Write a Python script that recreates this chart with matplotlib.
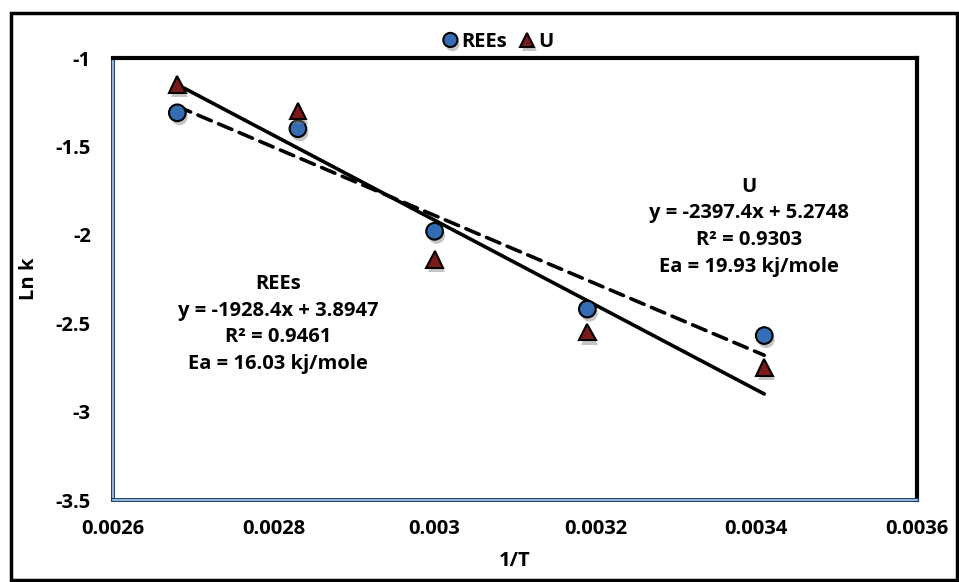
import numpy as np
import matplotlib
matplotlib.use("Agg")
import matplotlib.pyplot as plt
import matplotlib.patheffects as pe
from matplotlib.patches import Rectangle

plt.rcParams["font.family"] = ["Open Sans", "DejaVu Sans"]
plt.rcParams["font.weight"] = "bold"

# 1/T values and ln k for each series
inv_T = [0.00268, 0.00283, 0.00300, 0.00319, 0.00341]
lnk_rees = [-1.31, -1.40, -1.98, -2.42, -2.57]
lnk_u = [-1.15, -1.30, -2.14, -2.55, -2.75]

# trendline coefficients as printed on the chart
rees_fit = (-1928.4, 3.8947)
u_fit = (-2397.4, 5.2748)

rees_label = "REEs\ny = -1928.4x + 3.8947\nR² = 0.9461\nEa = 16.03 kj/mole"
u_label = "U\ny = -2397.4x + 5.2748\nR² = 0.9303\nEa = 19.93 kj/mole"

x_ticks = [0.0026, 0.0028, 0.003, 0.0032, 0.0034, 0.0036]
x_tick_labels = ["0.0026", "0.0028", "0.003", "0.0032", "0.0034", "0.0036"]
y_ticks = [-1, -1.5, -2, -2.5, -3, -3.5]
y_tick_labels = ["-1", "-1.5", "-2", "-2.5", "-3", "-3.5"]

FS = 14.5

fig = plt.figure(figsize=(9.59, 5.82), dpi=100)
ax = fig.add_axes([113 / 959, 1 - 500 / 582, (917 - 113) / 959, (500 - 58) / 582])

# outer frame of the chart
fig.patches.append(Rectangle((11 / 959, 2 / 582), 946 / 959, 567 / 582,
                             transform=fig.transFigure, fill=False,
                             edgecolor="black", linewidth=2.5, zorder=0))

shadow = [pe.SimplePatchShadow(offset=(1.5, -3), shadow_rgbFace="gray", alpha=0.45), pe.Normal()]

xs = np.array([min(inv_T), max(inv_T)])
ax.plot(xs, u_fit[0] * xs + u_fit[1], color="black", lw=2.6,
        solid_capstyle="round", zorder=2)
ax.plot(xs, rees_fit[0] * xs + rees_fit[1], color="black", lw=2.6,
        dashes=(4, 2.2), dash_capstyle="round", zorder=2)

ax.plot(inv_T, lnk_rees, "o", ms=12, mfc="#336db3", mec="black", mew=1.5,
        label="REEs", zorder=3, path_effects=shadow)
ax.plot(inv_T, lnk_u, "^", ms=12, mfc="#7a1a1a", mec="black", mew=1.5,
        label="U", zorder=3, path_effects=shadow)

ax.text(0.002805, -2.505, rees_label, ha="center", va="center",
        fontsize=FS, fontweight="bold", linespacing=1.45)
ax.text(0.003391, -1.955, u_label, ha="center", va="center",
        fontsize=FS, fontweight="bold", linespacing=1.45)

ax.set_xlim(0.0026, 0.0036)
ax.set_ylim(-3.5, -1)
ax.set_xticks(x_ticks)
ax.set_xticklabels(x_tick_labels)
ax.set_yticks(y_ticks)
ax.set_yticklabels(y_tick_labels)
ax.tick_params(length=0, labelsize=FS, pad=16)
ax.tick_params(axis="x", pad=14)

ax.set_xlabel("1/T", fontsize=FS, fontweight="bold", labelpad=8)
ax.set_ylabel("Ln k", fontsize=FS, fontweight="bold", labelpad=12)

for side in ["top", "right"]:
    ax.spines[side].set_linewidth(3)
    ax.spines[side].set_color("black")
for side in ["left", "bottom"]:
    ax.spines[side].set_linewidth(1.3)
    ax.spines[side].set_color("#9dc3e6")
    ax.spines[side].set_path_effects([pe.withStroke(linewidth=2.8, foreground="#1f3864")])

fig.legend(loc="center", bbox_to_anchor=(497 / 959, 1 - 42 / 582), ncol=2,
           frameon=False, fontsize=FS, handletextpad=0.05, columnspacing=0.5,
           handlelength=1.0, markerscale=0.85)

fig.savefig("out.png", dpi=100)
